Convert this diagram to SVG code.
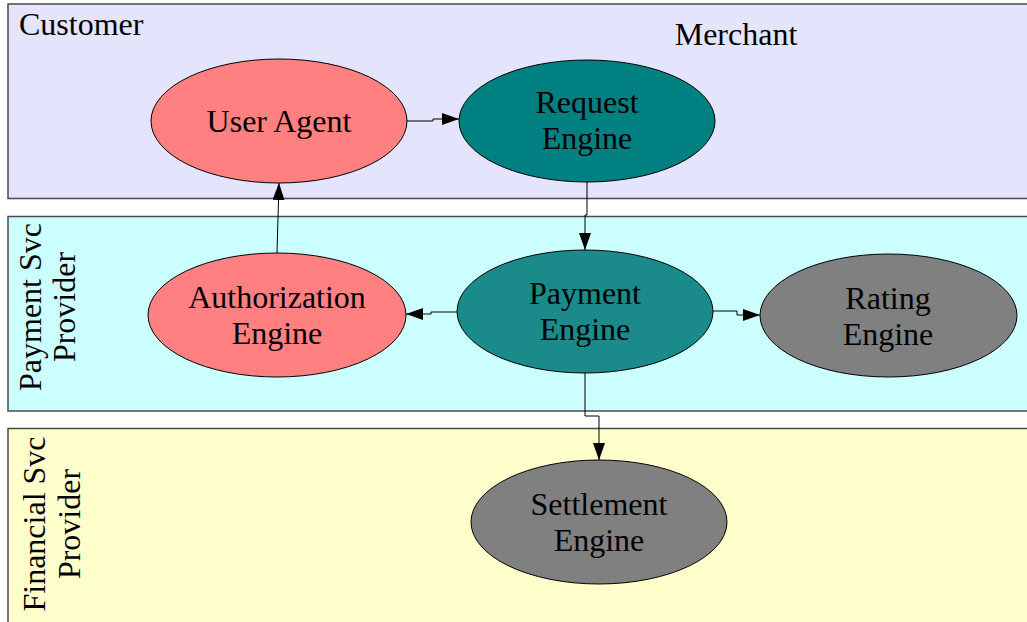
<svg xmlns="http://www.w3.org/2000/svg" width="1027" height="622" viewBox="0 0 1027 622">
  <style>
    .lane { stroke: #4a4a4a; stroke-width: 1.5; }
    .node { stroke: #000; stroke-width: 1; }
    .label { font-family: 'Liberation Serif', Tinos, 'Times New Roman', 'DejaVu Serif', serif; font-size: 32px; fill: #000; }
    .mid { text-anchor: middle; }
    .edge { fill: none; stroke: #000; stroke-width: 1; marker-end: url(#arrow); }
  </style>
  <defs>
    <marker id="arrow" viewBox="0 0 17 12" refX="17" refY="6" markerWidth="17" markerHeight="12" markerUnits="userSpaceOnUse" orient="auto">
      <path d="M0,0 L17,6 L0,12 Z" fill="#000"/>
    </marker>
  </defs>

  <rect width="1027" height="622" fill="#ffffff"/>

  <!-- swimlanes -->
  <g id="lane-customer">
    <rect class="lane" x="8" y="4" width="1030" height="194.5" fill="#e4e4fc"/>
    <text class="label" font-family="Liberation Serif, serif" x="19" y="35">Customer</text>
    <text class="label mid" font-family="Liberation Serif, serif" x="736" y="45">Merchant</text>
  </g>
  <g id="lane-payment-svc">
    <rect class="lane" x="8" y="216.5" width="1030" height="194.5" fill="#ccffff"/>
    <text class="label mid" font-family="Liberation Serif, serif" transform="translate(41,307) rotate(-90)">Payment Svc</text>
    <text class="label mid" font-family="Liberation Serif, serif" transform="translate(75,307) rotate(-90)">Provider</text>
  </g>
  <g id="lane-financial-svc">
    <rect class="lane" x="8" y="428.5" width="1030" height="200" fill="#ffffcc"/>
    <text class="label mid" font-family="Liberation Serif, serif" transform="translate(45,524) rotate(-90)">Financial Svc</text>
    <text class="label mid" font-family="Liberation Serif, serif" transform="translate(80,524) rotate(-90)">Provider</text>
  </g>

  <!-- nodes -->
  <g id="user-agent">
    <ellipse class="node" cx="279" cy="121" rx="128" ry="62" fill="#ff8080"/>
    <text class="label mid" x="279" y="132">User Agent</text>
  </g>
  <g id="request-engine">
    <ellipse class="node" cx="587" cy="121" rx="128" ry="61" fill="#008080"/>
    <text class="label mid" x="587" y="113">Request</text>
    <text class="label mid" x="587" y="149">Engine</text>
  </g>
  <g id="payment-engine">
    <ellipse class="node" cx="585" cy="311.5" rx="128" ry="61.5" fill="#1a8a8a"/>
    <text class="label mid" x="585" y="304">Payment</text>
    <text class="label mid" x="585" y="340">Engine</text>
  </g>
  <g id="authorization-engine">
    <ellipse class="node" cx="277" cy="315" rx="129" ry="62" fill="#ff8080"/>
    <text class="label mid" x="277" y="308">Authorization</text>
    <text class="label mid" x="277" y="344">Engine</text>
  </g>
  <g id="rating-engine">
    <ellipse class="node" cx="888.5" cy="315.5" rx="128.5" ry="61.5" fill="#808080"/>
    <text class="label mid" x="888" y="309">Rating</text>
    <text class="label mid" x="888" y="345">Engine</text>
  </g>
  <g id="settlement-engine">
    <ellipse class="node" cx="599" cy="522" rx="128" ry="62" fill="#808080"/>
    <text class="label mid" x="599" y="515">Settlement</text>
    <text class="label mid" x="599" y="551">Engine</text>
  </g>

  <!-- connectors -->
  <g id="connectors">
    <path class="edge" d="M407,121 H433 V119 H459"/>
    <path class="edge" d="M587,182 V215 H585 V250"/>
    <path class="edge" d="M457,312 H431 V314 H406"/>
    <path class="edge" d="M713,311 H737 V315 H760"/>
    <path class="edge" d="M585,373 V416 H599 V460"/>
    <path class="edge" d="M277,253 L279,183"/>
  </g>
</svg>
